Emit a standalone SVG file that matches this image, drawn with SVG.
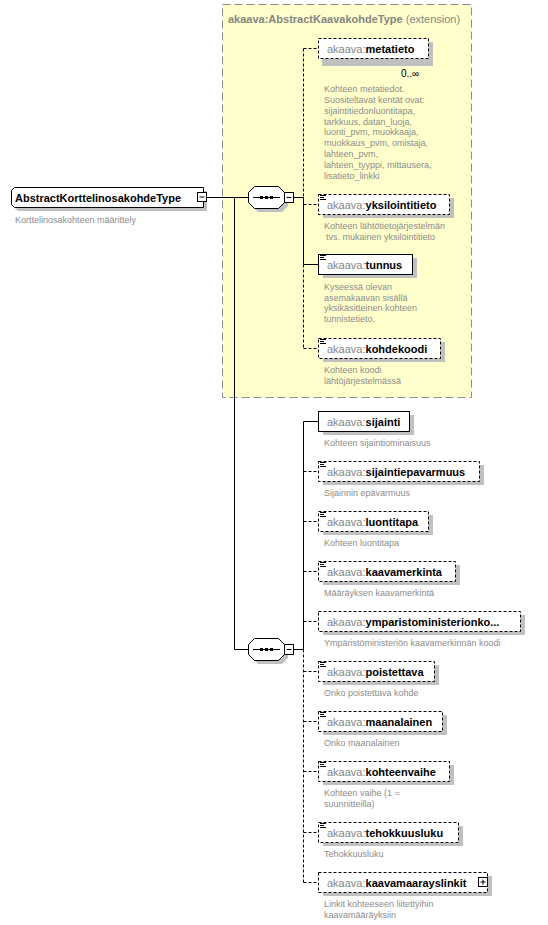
<svg xmlns="http://www.w3.org/2000/svg" width="548" height="925" viewBox="0 0 548 925">
<style>
text{font-family:"Liberation Sans",Arial,sans-serif}
.pre{font-size:11px;fill:#858585}
.nm{font-weight:bold;fill:#000}
.desc{font-size:9px;fill:#8c8c8c}
.box{fill:#fff;stroke:#000;stroke-width:1}
.opt{stroke-dasharray:3,2}
.sh{fill:#c0c0c0}
.ln{stroke:#000;stroke-width:1;fill:none}
.dl{stroke-dasharray:3,2}
.ic{stroke:#000;stroke-width:1}
</style>
<defs>
<path id="doc" d="M2,1.5h6M2,3.5h4M2,5.5h6" class="ic"/>
</defs>

<!-- extension area -->
<g id="ext">
<rect x="222.5" y="4.5" width="249" height="393" fill="#ffffcc" stroke="#8c8c8c" stroke-dasharray="8,4"/>
<text x="228" y="23" font-size="11" fill="#858585"><tspan font-weight="bold">akaava:AbstractKaavakohdeType</tspan> (extension)</text>
</g>

<!-- connectors -->
<g id="connectors">
<path class="ln" d="M207,197.5H248"/>
<path class="ln" d="M234.5,197.5V649.5H248"/>
<path class="ln" d="M294,197.5H303.5"/>
<path class="ln dl" d="M303.5,48.5V197.5"/>
<path class="ln" d="M303.5,197.5V264.5"/>
<path class="ln dl" d="M303.5,264.5V348.5"/>
<path class="ln dl" d="M303.5,48.5H318"/>
<path class="ln dl" d="M303.5,204.5H318"/>
<path class="ln" d="M303.5,264.5H318"/>
<path class="ln dl" d="M303.5,348.5H318"/>
<path class="ln" d="M294,649.5H303.5"/>
<path class="ln" d="M303.5,421.5V649.5"/>
<path class="ln dl" d="M303.5,649.5V882.5"/>
<path class="ln" d="M303.5,421.5H318"/>
<path class="ln dl" d="M303.5,471.5H318"/>
<path class="ln dl" d="M303.5,521.5H318"/>
<path class="ln dl" d="M303.5,571.5H318"/>
<path class="ln dl" d="M303.5,621.5H318"/>
<path class="ln dl" d="M303.5,671.5H318"/>
<path class="ln dl" d="M303.5,721.5H318"/>
<path class="ln dl" d="M303.5,771.5H318"/>
<path class="ln dl" d="M303.5,832.5H318"/>
<path class="ln dl" d="M303.5,882.5H318"/>
</g>

<!-- root -->
<g id="root">
<path class="sh" d="M18,191H207V211H18L15,208V194Z"/>
<path class="box" d="M14.5,187.5H203.5V207.5H14.5L11.5,204.5V190.5Z"/>
<text x="15" y="201.5" font-size="11" class="nm">AbstractKorttelinosakohdeType</text>
<rect class="box" x="197.5" y="192.5" width="9" height="9"/>
<path class="ln" d="M199.5,197H204.5"/>
<text x="15" y="223" class="desc">Korttelinosakohteen määrittely</text>
</g>

<!-- sequences -->
<g id="seq1">
<path class="sh" d="M258,190H282L288,196V206L282,212H258L252,206V196Z"/>
<path class="box" d="M254.5,186.5H278.5L284.5,192.5V202.5L278.5,208.5H254.5L248.5,202.5V192.5Z"/>
<path class="ln" d="M253,197.5H280"/>
<rect x="260" y="196" width="3" height="3"/><rect x="265" y="196" width="3" height="3"/><rect x="270" y="196" width="3" height="3"/>
<rect class="box" x="284.5" y="192.5" width="9" height="10"/>
<path class="ln" d="M286.5,197.5H291.5"/>
</g>
<g id="seq2">
<path class="sh" d="M258,642H282L288,648V658L282,664H258L252,658V648Z"/>
<path class="box" d="M254.5,638.5H278.5L284.5,644.5V654.5L278.5,660.5H254.5L248.5,654.5V644.5Z"/>
<path class="ln" d="M253,649.5H280"/>
<rect x="260" y="648" width="3" height="3"/><rect x="265" y="648" width="3" height="3"/><rect x="270" y="648" width="3" height="3"/>
<rect class="box" x="284.5" y="644.5" width="9" height="10"/>
<path class="ln" d="M286.5,649.5H291.5"/>
</g>

<!-- elements in extension -->
<g id="metatieto">
<rect class="sh" x="322" y="42" width="111" height="24"/>
<rect class="box opt" x="318.5" y="38.5" width="110" height="20"/>
<text x="327" y="52.5" class="pre">akaava:<tspan class="nm">metatieto</tspan></text>
<text x="401" y="77" font-size="10" fill="#000">0..∞</text>
<text class="desc"><tspan x="324" y="92">Kohteen metatiedot.</tspan><tspan x="324" y="103">Suositeltavat kentät ovat:</tspan><tspan x="324" y="114">sijaintitiedonluontitapa,</tspan><tspan x="324" y="125">tarkkuus, datan_luoja,</tspan><tspan x="324" y="135">luonti_pvm, muokkaaja,</tspan><tspan x="324" y="146">muokkaus_pvm, omistaja,</tspan><tspan x="324" y="157">lahteen_pvm,</tspan><tspan x="324" y="168">lahteen_tyyppi, mittausera,</tspan><tspan x="324" y="179">lisatieto_linkki</tspan></text>
</g>
<g id="yksilointitieto">
<rect class="sh" x="323" y="198" width="131" height="20"/>
<rect class="box opt" x="318.5" y="194.5" width="131" height="20"/>
<use href="#doc" x="318" y="194"/>
<text x="327" y="208.5" class="pre">akaava:<tspan class="nm">yksilointitieto</tspan></text>
<text class="desc"><tspan x="324" y="229">Kohteen lähtötietojärjestelmän</tspan><tspan x="326" y="240">tvs. mukainen yksilöintitieto</tspan></text>
</g>
<g id="tunnus">
<rect class="sh" x="323" y="258" width="94" height="20"/>
<rect class="box" x="318.5" y="254.5" width="94" height="20"/>
<use href="#doc" x="318" y="254"/>
<text x="327" y="268.5" class="pre">akaava:<tspan class="nm">tunnus</tspan></text>
<text class="desc"><tspan x="324" y="290">Kyseessä olevan</tspan><tspan x="324" y="301">asemakaavan sisällä</tspan><tspan x="324" y="311">yksikäsitteinen kohteen</tspan><tspan x="324" y="322">tunnistetieto.</tspan></text>
</g>
<g id="kohdekoodi">
<rect class="sh" x="323" y="342" width="122" height="20"/>
<rect class="box opt" x="318.5" y="338.5" width="122" height="20"/>
<use href="#doc" x="318" y="338"/>
<text x="327" y="352.5" class="pre">akaava:<tspan class="nm">kohdekoodi</tspan></text>
<text class="desc"><tspan x="324" y="373">Kohteen koodi</tspan><tspan x="324" y="384">lähtöjärjestelmässä</tspan></text>
</g>

<!-- elements in sequence 2 -->
<g id="sijainti">
<rect class="sh" x="323" y="415" width="91" height="20"/>
<rect class="box" x="318.5" y="411.5" width="91" height="20"/>
<text x="327" y="425.5" class="pre">akaava:<tspan class="nm">sijainti</tspan></text>
<text x="324" y="446" class="desc">Kohteen sijaintiominaisuus</text>
</g>
<g id="sijaintiepavarmuus">
<rect class="sh" x="323" y="465" width="161" height="20"/>
<rect class="box opt" x="318.5" y="461.5" width="161" height="20"/>
<use href="#doc" x="318" y="461"/>
<text x="327" y="475.5" class="pre">akaava:<tspan class="nm">sijaintiepavarmuus</tspan></text>
<text x="324" y="496" class="desc">Sijainnin epävarmuus</text>
</g>
<g id="luontitapa">
<rect class="sh" x="323" y="515" width="110" height="20"/>
<rect class="box opt" x="318.5" y="511.5" width="110" height="20"/>
<use href="#doc" x="318" y="511"/>
<text x="327" y="525.5" class="pre">akaava:<tspan class="nm">luontitapa</tspan></text>
<text x="324" y="546" class="desc">Kohteen luontitapa</text>
</g>
<g id="kaavamerkinta">
<rect class="sh" x="323" y="565" width="137" height="20"/>
<rect class="box opt" x="318.5" y="561.5" width="137" height="20"/>
<use href="#doc" x="318" y="561"/>
<text x="327" y="575.5" class="pre">akaava:<tspan class="nm">kaavamerkinta</tspan></text>
<text x="324" y="596" class="desc">Määräyksen kaavamerkintä</text>
</g>
<g id="ymparistoministerionkoodi">
<rect class="sh" x="323" y="615" width="202" height="20"/>
<rect class="box opt" x="318.5" y="611.5" width="202" height="20"/>
<text x="327" y="625.5" class="pre">akaava:<tspan class="nm">ymparistoministerionko...</tspan></text>
<text x="324" y="646" class="desc">Ympäristöministeriön kaavamerkinnän koodi</text>
</g>
<g id="poistettava">
<rect class="sh" x="323" y="665" width="116" height="20"/>
<rect class="box opt" x="318.5" y="661.5" width="116" height="20"/>
<use href="#doc" x="318" y="661"/>
<text x="327" y="675.5" class="pre">akaava:<tspan class="nm">poistettava</tspan></text>
<text x="324" y="696" class="desc">Onko poistettava kohde</text>
</g>
<g id="maanalainen">
<rect class="sh" x="323" y="715" width="124" height="20"/>
<rect class="box opt" x="318.5" y="711.5" width="124" height="20"/>
<use href="#doc" x="318" y="711"/>
<text x="327" y="725.5" class="pre">akaava:<tspan class="nm">maanalainen</tspan></text>
<text x="324" y="746" class="desc">Onko maanalainen</text>
</g>
<g id="kohteenvaihe">
<rect class="sh" x="323" y="765" width="131" height="20"/>
<rect class="box opt" x="318.5" y="761.5" width="131" height="20"/>
<use href="#doc" x="318" y="761"/>
<text x="327" y="775.5" class="pre">akaava:<tspan class="nm">kohteenvaihe</tspan></text>
<text class="desc"><tspan x="324" y="796">Kohteen vaihe (1 =</tspan><tspan x="324" y="807">suunnitteilla)</tspan></text>
</g>
<g id="tehokkuusluku">
<rect class="sh" x="323" y="826" width="140" height="20"/>
<rect class="box opt" x="318.5" y="822.5" width="140" height="20"/>
<use href="#doc" x="318" y="822"/>
<text x="327" y="836.5" class="pre">akaava:<tspan class="nm">tehokkuusluku</tspan></text>
<text x="324" y="857" class="desc">Tehokkuusluku</text>
</g>
<g id="kaavamaarayslinkit">
<rect class="sh" x="323" y="876" width="169" height="20"/>
<rect class="box opt" x="318.5" y="872.5" width="169" height="20"/>
<text x="327" y="886.5" class="pre">akaava:<tspan class="nm">kaavamaarayslinkit</tspan></text>
<rect class="box" x="478.5" y="877.5" width="9" height="9"/>
<path class="ln" d="M480.5,882H485.5M483,879.5V884.5"/>
<text class="desc"><tspan x="324" y="907">Linkit kohteeseen liitettyihin</tspan><tspan x="324" y="918">kaavamääräyksiin</tspan></text>
</g>
</svg>
